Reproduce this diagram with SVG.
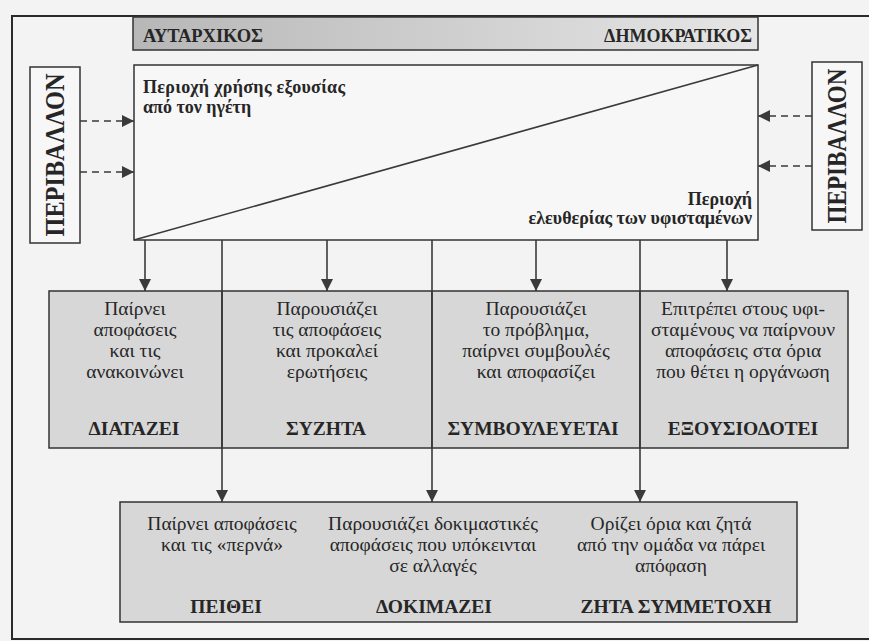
<svg xmlns="http://www.w3.org/2000/svg" width="869" height="641" viewBox="0 0 869 641">
<style>
.h{font-family:"Liberation Serif","DejaVu Serif",serif;font-weight:bold;font-size:19.5px;fill:#262626}
.hb{font-family:"Liberation Serif","DejaVu Serif",serif;font-weight:bold;font-size:18.5px;fill:#262626}
.a{font-family:"Liberation Serif","DejaVu Serif",serif;font-weight:bold;font-size:18px;fill:#262626}
.t{font-family:"Liberation Serif","DejaVu Serif",serif;font-size:19.5px;fill:#262626}
.env{font-family:"Liberation Serif","DejaVu Serif",serif;font-weight:bold;font-size:27px;fill:#262626}
.box{fill:#d7d7d7;stroke:#333;stroke-width:1.5}
.plain{fill:#f7f7f7;stroke:#333;stroke-width:1.5}
.ln{stroke:#3a3a3a;stroke-width:1.6;fill:none}
.dash{stroke:#3a3a3a;stroke-width:1.6;fill:none;stroke-dasharray:7 5}
.mc{text-anchor:middle}
.end{text-anchor:end}
</style>
<defs>
<linearGradient id="bg" x1="0" y1="0" x2="1" y2="0">
<stop offset="0" stop-color="#b7b7b7"/>
<stop offset="1" stop-color="#e6e6e6"/>
</linearGradient>
<marker id="ah" viewBox="0 0 10 10" refX="10" refY="5" markerUnits="userSpaceOnUse" markerWidth="12" markerHeight="12" orient="auto">
<path d="M0,0 L10,5 L0,10 z" fill="#3a3a3a"/>
</marker>
</defs>
<rect x="0" y="0" width="869" height="641" fill="#f3f3f3"/>
<g id="frame">
<path d="M872,16 L12,16 L12,639 L872,639" fill="none" stroke="#2a2a2a" stroke-width="2"/>
</g>
<g id="banner">
<rect x="133" y="17" width="625" height="33" fill="url(#bg)" stroke="#333" stroke-width="1.5"/>
<text class="hb" x="143" y="42">ΑΥΤΑΡΧΙΚΟΣ</text>
<text class="a end" x="752" y="42">ΔΗΜΟΚΡΑΤΙΚΟΣ</text>
</g>
<g id="authority-area">
<rect x="134" y="65" width="624" height="175" class="plain"/>
<line x1="134" y1="240" x2="758" y2="65" class="ln"/>
<text class="a" x="143" y="93" textLength="202" lengthAdjust="spacing">Περιοχή χρήσης εξουσίας</text>
<text class="a" x="143" y="113">από τον ηγέτη</text>
<text class="a end" x="752" y="205">Περιοχή</text>
<text class="a end" x="752" y="224">ελευθερίας των υφισταμένων</text>
</g>
<g id="env-left">
<rect x="30" y="67" width="50" height="176" class="plain"/>
<text class="env mc" transform="translate(64,155) rotate(-90)" x="0" y="0" textLength="163" lengthAdjust="spacingAndGlyphs">ΠΕΡΙΒΑΛΛΟΝ</text>
</g>
<g id="env-right">
<rect x="812" y="62" width="50" height="168" class="plain"/>
<text class="env mc" transform="translate(846,146) rotate(-90)" x="0" y="0" textLength="155" lengthAdjust="spacingAndGlyphs">ΠΕΡΙΒΑΛΛΟΝ</text>
</g>
<g id="diatazei">
<rect x="49" y="291" width="173" height="157" class="box"/>
<text class="t mc" x="135" y="315">Παίρνει</text>
<text class="t mc" x="135" y="336">αποφάσεις</text>
<text class="t mc" x="135" y="357">και τις</text>
<text class="t mc" x="135" y="378">ανακοινώνει</text>
<text class="h mc" x="134" y="435">ΔΙΑΤΑΖΕΙ</text>
</g>
<g id="syzhta">
<rect x="222" y="291" width="210" height="157" class="box"/>
<text class="t mc" x="327" y="315">Παρουσιάζει</text>
<text class="t mc" x="327" y="336">τις αποφάσεις</text>
<text class="t mc" x="327" y="357">και προκαλεί</text>
<text class="t mc" x="327" y="378">ερωτήσεις</text>
<text class="h mc" x="326" y="435">ΣΥΖΗΤΑ</text>
</g>
<g id="symvouleuetai">
<rect x="432" y="291" width="208" height="157" class="box"/>
<text class="t mc" x="536" y="315">Παρουσιάζει</text>
<text class="t mc" x="536" y="336">το πρόβλημα,</text>
<text class="t mc" x="536" y="357">παίρνει συμβουλές</text>
<text class="t mc" x="536" y="378">και αποφασίζει</text>
<text class="h mc" x="533" y="435">ΣΥΜΒΟΥΛΕΥΕΤΑΙ</text>
</g>
<g id="exousiodotei">
<rect x="640" y="291" width="208" height="157" class="box"/>
<text class="t mc" x="743" y="315">Επιτρέπει στους υφι-</text>
<text class="t mc" x="743" y="336">σταμένους να παίρνουν</text>
<text class="t mc" x="743" y="357">αποφάσεις στα όρια</text>
<text class="t mc" x="743" y="378">που θέτει η οργάνωση</text>
<text class="h mc" x="743" y="435">ΕΞΟΥΣΙΟΔΟΤΕΙ</text>
</g>
<g id="bottom-row">
<rect x="120" y="502" width="677" height="120" class="box"/>
<g id="peithei">
<text class="t mc" x="222" y="530">Παίρνει αποφάσεις</text>
<text class="t mc" x="222" y="551">και τις «περνά»</text>
<text class="h mc" x="226" y="613">ΠΕΙΘΕΙ</text>
</g>
<g id="dokimazei">
<text class="t mc" x="433" y="530">Παρουσιάζει δοκιμαστικές</text>
<text class="t mc" x="433" y="551">αποφάσεις που υπόκεινται</text>
<text class="t mc" x="433" y="572">σε αλλαγές</text>
<text class="h mc" x="434" y="613">ΔΟΚΙΜΑΖΕΙ</text>
</g>
<g id="zhta-symmetoxh">
<text class="t mc" x="671" y="530">Ορίζει όρια και ζητά</text>
<text class="t mc" x="671" y="551">από την ομάδα να πάρει</text>
<text class="t mc" x="671" y="572">απόφαση</text>
<text class="h mc" x="676" y="613">ΖΗΤΑ ΣΥΜΜΕΤΟΧΗ</text>
</g>
</g>
<g id="connectors">
<line x1="145" y1="240" x2="145" y2="291" class="ln" marker-end="url(#ah)"/>
<line x1="222" y1="240" x2="222" y2="502" class="ln" marker-end="url(#ah)"/>
<line x1="327" y1="240" x2="327" y2="291" class="ln" marker-end="url(#ah)"/>
<line x1="432" y1="240" x2="432" y2="502" class="ln" marker-end="url(#ah)"/>
<line x1="536" y1="240" x2="536" y2="291" class="ln" marker-end="url(#ah)"/>
<line x1="640" y1="240" x2="640" y2="502" class="ln" marker-end="url(#ah)"/>
<line x1="727" y1="240" x2="727" y2="291" class="ln" marker-end="url(#ah)"/>
<line x1="80" y1="121" x2="134" y2="121" class="dash" marker-end="url(#ah)"/>
<line x1="80" y1="172" x2="134" y2="172" class="dash" marker-end="url(#ah)"/>
<line x1="812" y1="116" x2="758" y2="116" class="dash" marker-end="url(#ah)"/>
<line x1="812" y1="166" x2="758" y2="166" class="dash" marker-end="url(#ah)"/>
</g>
</svg>
